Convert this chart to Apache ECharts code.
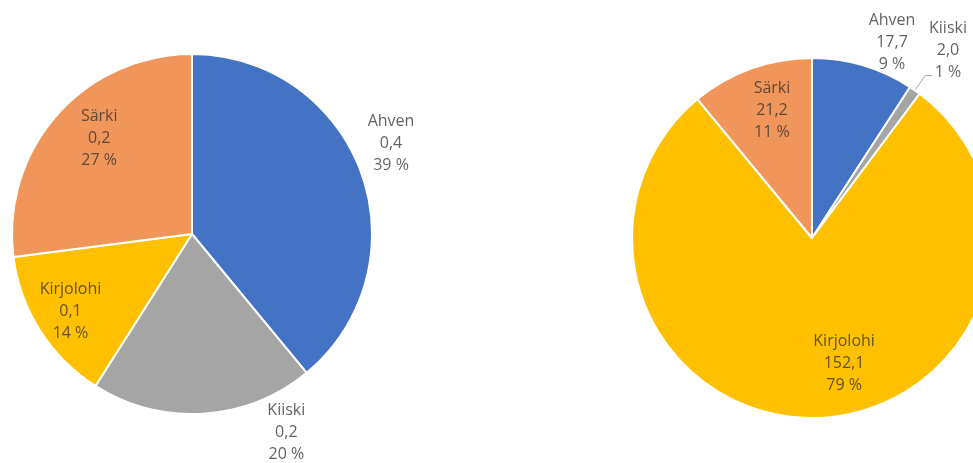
<!DOCTYPE html>
<html>
<head>
<meta charset="utf-8">
<script src="https://cdn.jsdelivr.net/npm/echarts@6/dist/echarts.min.js"></script>
<style>
  html, body { margin: 0; padding: 0; background: #ffffff; }
  #chart { width: 973px; height: 463px; }
</style>
</head>
<body>
<div id="chart"></div>
<script>
// ---- data ----
const categories = ['Ahven', 'Kiiski', 'Kirjolohi', 'Särki'];
const leftValues = [0.355, 0.182, 0.127, 0.246];
const rightValues = [17.7, 2.0, 152.1, 21.2];

// ---- styles ----
const colors = ['#4472C4', '#A5A5A5', '#FFC000', '#F0965A'];
const FONT = '"Open Sans", sans-serif';
const R = 180;
const leftCenter = [192, 234];
const rightCenter = [812, 238];
// label placement: [angle offset from slice middle (deg), distance / radius]
const leftLabelPlace = [[-4.8, 1.216], [-21.9, 1.219], [0, 0.80], [4.5, 0.74]];
const rightLabelPlace = [[5.7, 1.176], [1.0, 1.289], [-13, 0.717], [2.4, 0.745]];

function midAngles(values) {
  const total = values.reduce((a, b) => a + b, 0);
  let cum = 0;
  return values.map(v => {
    const m = (cum + v / 2) / total * 360;
    cum += v;
    return m;
  });
}

function fmt(p) {
  return p.name + '\n' + p.value.toFixed(1).replace('.', ',') + '\n' + Math.round(p.percent) + ' %';
}

function makeLayout(values, center, place, lineIdx) {
  const mids = midAngles(values);
  return function (params) {
    const i = params.dataIndex;
    const a = (mids[i] + place[i][0]) * Math.PI / 180;
    const d = place[i][1] * R;
    const out = {
      x: center[0] + d * Math.sin(a),
      y: center[1] - d * Math.cos(a),
      align: 'center',
      verticalAlign: 'middle'
    };
    if (i === lineIdx) {
      const m = mids[i] * Math.PI / 180;
      const p0 = [center[0] + R * Math.sin(m), center[1] - R * Math.cos(m)];
      const p1 = [center[0] + 1.1 * R * Math.sin(m), center[1] - 1.1 * R * Math.cos(m)];
      const p2 = [p1[0] + 7, p1[1]];
      out.labelLinePoints = [p0, p1, p2];
    }
    return out;
  };
}

function makeData(values, lineIdx) {
  return categories.map((c, i) => {
    const item = { name: c, value: values[i], itemStyle: { color: colors[i] } };
    if (i === lineIdx) item.labelLine = { show: true };
    return item;
  });
}

function makeSeries(values, center, place, lineIdx) {
  return {
    type: 'pie',
    center: center,
    radius: [0, R],
    startAngle: 90,
    clockwise: true,
    avoidLabelOverlap: false,
    silent: true,
    animation: false,
    itemStyle: { borderColor: '#ffffff', borderWidth: 2 },
    label: {
      show: true,
      position: 'outside',
      formatter: fmt,
      fontFamily: FONT,
      fontSize: 16,
      lineHeight: 22,
      color: 'rgba(45,45,45,0.75)',
      align: 'center'
    },
    labelLine: { show: false, lineStyle: { color: '#A6A6A6', width: 1 } },
    labelLayout: makeLayout(values, center, place, lineIdx),
    data: makeData(values, lineIdx)
  };
}

const chart = echarts.init(document.getElementById('chart'), null, { renderer: 'canvas' });
chart.setOption({
  backgroundColor: '#ffffff',
  animation: false,
  series: [
    makeSeries(leftValues, leftCenter, leftLabelPlace, -1),
    makeSeries(rightValues, rightCenter, rightLabelPlace, 1)
  ]
});
</script>
</body>
</html>
